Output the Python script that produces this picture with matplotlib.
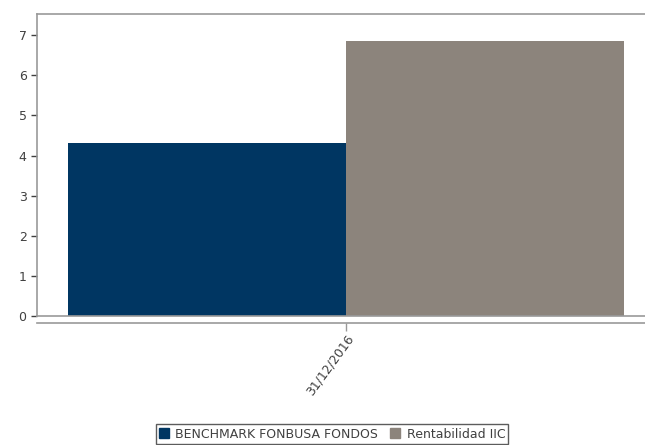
import numpy as np
import matplotlib.pyplot as plt
from matplotlib.patches import Patch

categories = ['31/12/2016']
series_names = ['BENCHMARK FONBUSA FONDOS', 'Rentabilidad IIC']
series_values = [[4.31], [6.86]]
colors = ['#003662', '#8c847c']

W, H = 645, 445
fig = plt.figure(figsize=(W / 100, H / 100), dpi=100)
# axes box runs a bit past the right edge of the picture, as in the original
ax = fig.add_axes([37 / W, 1 - 316 / H, 618 / W, (316 - 14) / H])

for s in ['top', 'left', 'bottom']:
    ax.spines[s].set_color('#999999')
    ax.spines[s].set_linewidth(1.2)
ax.spines['right'].set_visible(False)
ax.spines['bottom'].set_position(('outward', 5))

x = np.arange(len(categories))
width = 0.45
for i, (name, vals) in enumerate(zip(series_names, series_values)):
    ax.bar(x + (i - 0.5) * width, vals, width, color=colors[i], label=name)

ax.set_xlim(-0.5, 0.5)
ax.set_ylim(0, 7.53)
ax.set_yticks(range(0, 8))
ax.set_xticks(x)
ax.tick_params(axis='y', labelsize=9, colors='#404040', length=4, width=1)
ax.tick_params(axis='x', length=6, width=1, pad=1, colors='#999999', labelcolor='#404040')
ax.set_xticklabels(categories, rotation=54, ha='right', rotation_mode='anchor',
                   fontsize=9, color='#404040')
ax.axhline(0, color='#999999', lw=1.2, clip_on=False)

handles = [Patch(color=c) for c in colors]
leg = fig.legend(handles, series_names, loc='center', bbox_to_anchor=(332 / W, 1 - 434 / H),
                 ncol=2, fontsize=9, frameon=True, fancybox=False, handlelength=0.8,
                 handleheight=0.8, handletextpad=0.5, columnspacing=1.0,
                 borderpad=0.25, edgecolor='#333333')
leg.get_frame().set_linewidth(1)
for t in leg.get_texts():
    t.set_color('#404040')

fig.savefig('out.png', dpi=100)
